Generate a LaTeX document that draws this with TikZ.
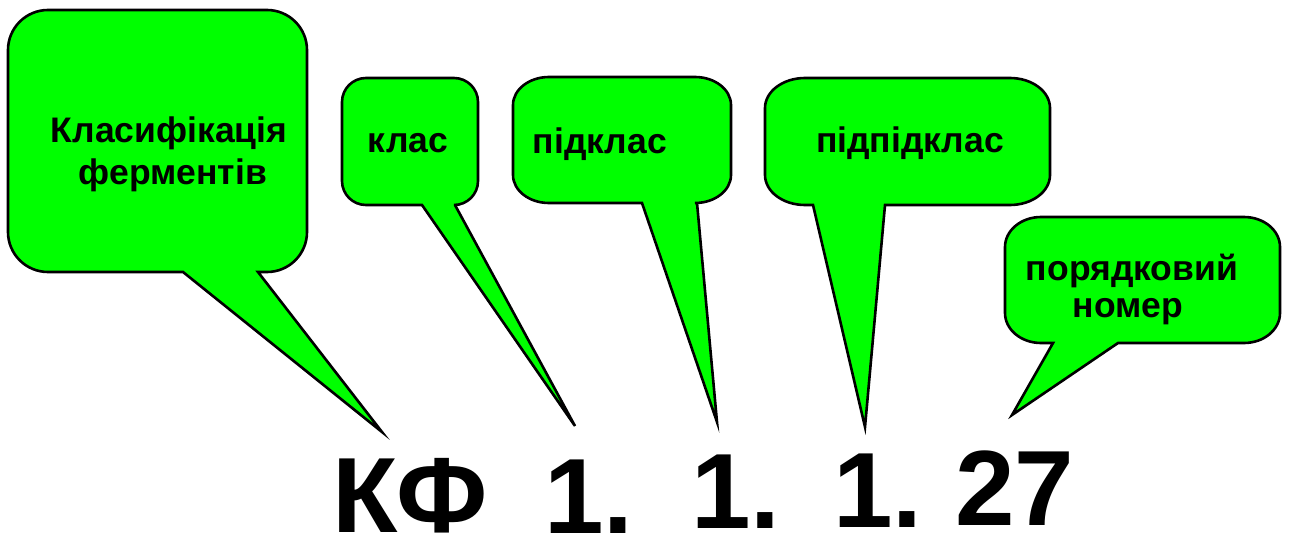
\documentclass[tikz,border=0pt]{standalone}
\usepackage{fontspec}
\setmainfont{Liberation Sans}
\definecolor{bubblegreen}{RGB}{0,255,0}
\tikzset{
  bubble/.style={fill=bubblegreen, draw=black, line width=2.6pt, line join=miter},
  lbl/.style={anchor=base, inner sep=0pt, font=\bfseries\fontsize{35.5}{40}\selectfont},
  code/.style={anchor=base, inner sep=0pt, text depth=0pt, font=\bfseries\fontsize{107}{110}\selectfont}
}
% #1 x1, #2 y1, #3 x2, #4 y2, #5 rx, #6 ry, #7 tail base left x, #8 tail base right x, #9 tip coordinate name
\newcommand\bubbleshape[9]{%
  \filldraw[bubble] (#7,#4) -- (#9) -- (#8,#4) -- ({#3-#5},#4)
    .. controls ({#3-0.448*#5},#4) and (#3,{#4-0.448*#6}) .. (#3,{#4-#6})
    -- (#3,{#2+#6})
    .. controls (#3,{#2+0.448*#6}) and ({#3-0.448*#5},#2) .. ({#3-#5},#2)
    -- ({#1+#5},#2)
    .. controls ({#1+0.448*#5},#2) and (#1,{#2+0.448*#6}) .. (#1,{#2+#6})
    -- (#1,{#4-#6})
    .. controls (#1,{#4-0.448*#6}) and ({#1+0.448*#5},#4) .. ({#1+#5},#4)
    -- cycle;%
}
\begin{document}
\begin{tikzpicture}[x=1pt,y=-1pt]
\useasboundingbox (0,0) rectangle (1289,538);
% tail tips
\coordinate (t1) at (382,432);
\coordinate (t2) at (575,426);
\coordinate (t3) at (717,422);
\coordinate (t4) at (865,427);
\coordinate (t5) at (1012,415);
% bubbles
\bubbleshape{8}{10}{307}{272}{40}{40}{183}{258}{t1}
\bubbleshape{342}{78}{478}{205}{24}{24}{422}{455}{t2}
\bubbleshape{513}{77}{731}{203}{36}{28}{642}{697}{t3}
\bubbleshape{765}{78}{1050}{205}{40}{30}{813}{885}{t4}
\bubbleshape{1005}{217}{1280}{343}{36}{30}{1053}{1118}{t5}
% labels
\node[lbl] (l1a) at (169,142) {Класифікація};
\node[lbl] (l1b) at (173,184) {ферментів};
\node[lbl] (l2) at (408,152) {клас};
\node[lbl] (l3) at (600,153) {підклас};
\node[lbl] (l4) at (910,152) {підпідклас};
\node[lbl] (l5a) at (1132,280) {порядковий};
\node[lbl] (l5b) at (1128,317) {номер};
% code
\node[code] (c0) at (410,532) {КФ};
\node[code] (c1) at (589,533) {1.};
\node[code] (c2) at (736,528) {1.};
\node[code] (c3) at (878,527) {1.};
\node[code] (c4) at (1015,525) {27};
\end{tikzpicture}
\end{document}
